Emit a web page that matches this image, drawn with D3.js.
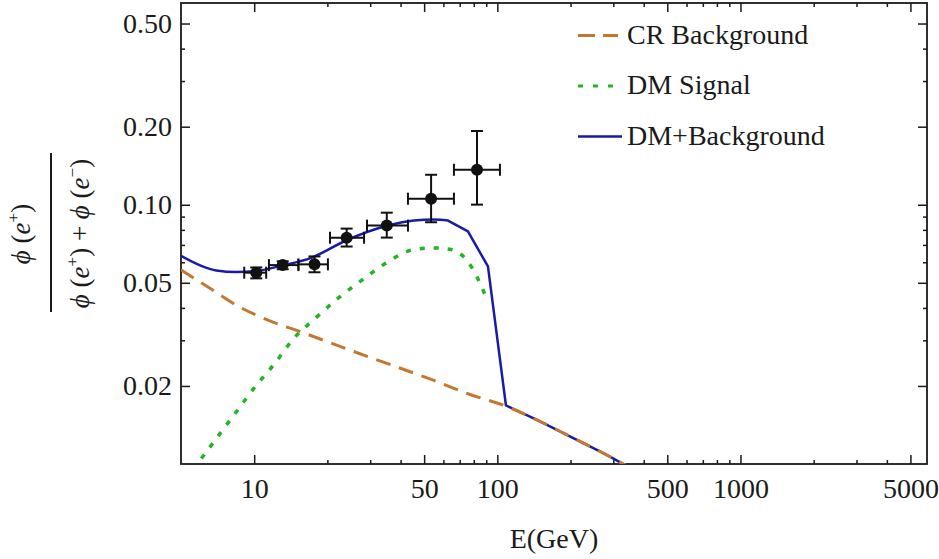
<!DOCTYPE html>
<html>
<head>
<meta charset="utf-8">
<script src="https://cdn.jsdelivr.net/npm/d3@7"></script>
<style>
  body { margin: 0; background: #fff; }
  text { font-family: "Liberation Serif", "Times New Roman", serif; fill: #1a1a1a; }
</style>
</head>
<body>
<svg id="chart"></svg>
<script>
// Positron fraction data (energies in GeV)
const dataE    = [10.2, 13.1, 17.7, 24.0, 35.1, 53.4, 82.5];
const dataFrac = [0.0547, 0.0585, 0.0589, 0.0746, 0.0831, 0.1055, 0.1364];
const dataElo  = [9.1, 11.5, 15.2, 20.5, 29.1, 42.9, 66.3];
const dataEhi  = [11.2, 15.2, 20.1, 28.3, 42.9, 66.3, 102.5];
const dataFlo  = [0.0520, 0.0564, 0.0549, 0.0690, 0.0747, 0.0856, 0.1001];
const dataFhi  = [0.0573, 0.0605, 0.0632, 0.0809, 0.0932, 0.1305, 0.1925];

// CR background curve
const bgE    = [5.0, 6.53, 8.43, 11.74, 15.6, 25.0, 36.6, 54.9, 75.7, 108.5, 146.9, 200.6, 274.2, 337.5];
const bgFrac = [0.0561, 0.0478, 0.0410, 0.0355, 0.0323, 0.0274, 0.0241, 0.0210, 0.01866, 0.01671, 0.01474, 0.01273, 0.01098, 0.00988];

// DM signal curve
const dmE    = [5.6, 6.98, 8.43, 10.19, 11.97, 14.46, 17.97, 22.35, 28.04, 35.85, 45.4, 54.9, 64.5, 72.2, 79.4, 85.6, 90.6];
const dmFrac = [0.0095, 0.01253, 0.01588, 0.0201, 0.0240, 0.0303, 0.0367, 0.0439, 0.0516, 0.0606, 0.0672, 0.0681, 0.0672, 0.0634, 0.0563, 0.0489, 0.0432];

// DM + background curve
const totE    = [5.0, 6.06, 6.98, 8.43, 10.19, 13.15, 17.15, 24.1, 35.5, 45.4, 54.9, 62.7, 75.7, 91.5, 108.5, 146.9, 200.6, 274.2, 337.5];
const totFrac = [0.0635, 0.0581, 0.0558, 0.0550, 0.0555, 0.0584, 0.0624, 0.0731, 0.0831, 0.0869, 0.0877, 0.0869, 0.0790, 0.0578, 0.01683, 0.01474, 0.01273, 0.01098, 0.00988];
const totSmoothEnd = 11; // index where the sharp cut-off starts

// ticks
const xMajor = [10, 50, 100, 500, 1000, 5000];
const xMinor = [20, 30, 40, 60, 70, 80, 90, 200, 300, 400, 600, 700, 800, 900, 2000, 3000, 4000];
const yMajor = [0.02, 0.05, 0.1, 0.2, 0.5];
const yMinor = [0.03, 0.04, 0.06, 0.07, 0.08, 0.09, 0.3, 0.4];

const legendNames = ["CR Background", "DM Signal", "DM+Background"];

const width = 939, height = 559;
const plotLeft = 181, plotRight = 927, plotTop = 3, plotBottom = 464;
const fontSize = 28;

const colBg = "#c47731", colDm = "#22b522", colTot = "#1a1aa8";
const serif = "'Liberation Serif', 'Times New Roman', serif";

const svg = d3.select("#chart").attr("width", width).attr("height", height);

const x = d3.scaleLog().domain([5, 5850]).range([plotLeft, plotRight]);
const y = d3.scaleLog().domain([0.01, 0.6]).range([plotBottom, plotTop]);

svg.append("clipPath").attr("id", "plotclip")
  .append("rect").attr("x", plotLeft).attr("y", plotTop)
  .attr("width", plotRight - plotLeft).attr("height", plotBottom - plotTop);

// axes (ticks point inward)
function styleAxis(g) {
  g.attr("font-family", serif);
  g.select(".domain").remove();
  g.selectAll("line").attr("stroke", "#1a1a1a").attr("stroke-width", 1.5);
  g.selectAll("text").attr("font-size", fontSize).attr("fill", "#1a1a1a");
}

svg.append("g").attr("transform", `translate(0,${plotBottom})`)
  .call(d3.axisBottom(x).tickValues(xMajor).tickSize(-9).tickPadding(14).tickFormat(d3.format("d"))).call(styleAxis);
svg.append("g").attr("transform", `translate(0,${plotBottom})`)
  .call(d3.axisBottom(x).tickValues(xMinor).tickSize(-4).tickFormat("")).call(styleAxis);
svg.append("g").attr("transform", `translate(0,${plotTop})`)
  .call(d3.axisTop(x).tickValues(xMajor).tickSize(-9).tickFormat("")).call(styleAxis);
svg.append("g").attr("transform", `translate(0,${plotTop})`)
  .call(d3.axisTop(x).tickValues(xMinor).tickSize(-4).tickFormat("")).call(styleAxis);

svg.append("g").attr("transform", `translate(${plotLeft},0)`)
  .call(d3.axisLeft(y).tickValues(yMajor).tickSize(-9).tickPadding(9).tickFormat(d3.format(".2f"))).call(styleAxis);
svg.append("g").attr("transform", `translate(${plotLeft},0)`)
  .call(d3.axisLeft(y).tickValues(yMinor).tickSize(-4).tickFormat("")).call(styleAxis);
svg.append("g").attr("transform", `translate(${plotRight},0)`)
  .call(d3.axisRight(y).tickValues(yMajor).tickSize(-9).tickFormat("")).call(styleAxis);
svg.append("g").attr("transform", `translate(${plotRight},0)`)
  .call(d3.axisRight(y).tickValues(yMinor).tickSize(-4).tickFormat("")).call(styleAxis);

// frame
svg.append("rect").attr("x", plotLeft).attr("y", plotTop)
  .attr("width", plotRight - plotLeft).attr("height", plotBottom - plotTop)
  .attr("fill", "none").attr("stroke", "#1a1a1a").attr("stroke-width", 1.8);

// curves
const line = d3.line().x(d => x(d[0])).y(d => y(d[1])).curve(d3.curveMonotoneX);
const lineLin = d3.line().x(d => x(d[0])).y(d => y(d[1]));
const plot = svg.append("g").attr("clip-path", "url(#plotclip)");

const tot = d3.zip(totE, totFrac);
const totPath = line(tot.slice(0, totSmoothEnd + 1)) + lineLin(tot.slice(totSmoothEnd)).replace(/^M[^L]*/, "");
plot.append("path").attr("d", totPath)
  .attr("fill", "none").attr("stroke", colTot).attr("stroke-width", 2.5).attr("stroke-linejoin", "round");
plot.append("path").datum(d3.zip(bgE, bgFrac)).attr("d", line)
  .attr("fill", "none").attr("stroke", colBg).attr("stroke-width", 3).attr("stroke-dasharray", "15,9");
plot.append("path").datum(d3.zip(dmE, dmFrac)).attr("d", line)
  .attr("fill", "none").attr("stroke", colDm).attr("stroke-width", 3.5).attr("stroke-dasharray", "5,9");

// data points with error bars
const pts = dataE.map((e, i) => ({ e: e, f: dataFrac[i], elo: dataElo[i], ehi: dataEhi[i], flo: dataFlo[i], fhi: dataFhi[i] }));
const cap = 6;
const pg = plot.append("g").attr("stroke", "#111").attr("stroke-width", 2);
pts.forEach(p => {
  const cx = x(p.e), cy = y(p.f);
  pg.append("line").attr("x1", x(p.elo)).attr("x2", x(p.ehi)).attr("y1", cy).attr("y2", cy);
  pg.append("line").attr("x1", x(p.elo)).attr("x2", x(p.elo)).attr("y1", cy - cap).attr("y2", cy + cap);
  pg.append("line").attr("x1", x(p.ehi)).attr("x2", x(p.ehi)).attr("y1", cy - cap).attr("y2", cy + cap);
  pg.append("line").attr("x1", cx).attr("x2", cx).attr("y1", y(p.flo)).attr("y2", y(p.fhi));
  pg.append("line").attr("x1", cx - cap).attr("x2", cx + cap).attr("y1", y(p.flo)).attr("y2", y(p.flo));
  pg.append("line").attr("x1", cx - cap).attr("x2", cx + cap).attr("y1", y(p.fhi)).attr("y2", y(p.fhi));
});
plot.append("g").selectAll("circle").data(pts).join("circle")
  .attr("cx", d => x(d.e)).attr("cy", d => y(d.f)).attr("r", 6).attr("fill", "#111");

// legend
const legendStyles = [
  { color: colBg, dash: "17,8", w: 3 },
  { color: colDm, dash: "5,10", w: 3 },
  { color: colTot, dash: null, w: 2.5 }
];
const legend = svg.append("g").attr("font-family", serif).selectAll("g").data(legendNames).join("g")
  .attr("transform", (d, i) => `translate(578,${35.5 + i * 50.5})`);
legend.append("line").attr("x1", 0).attr("x2", (d, i) => i === 2 ? 44 : 40).attr("y1", 0).attr("y2", 0)
  .attr("stroke", (d, i) => legendStyles[i].color)
  .attr("stroke-width", (d, i) => legendStyles[i].w)
  .attr("stroke-dasharray", (d, i) => legendStyles[i].dash);
legend.append("text").attr("x", 49).attr("y", 8).attr("font-size", fontSize).text(d => d);

// x axis title
svg.append("text").attr("x", (plotLeft + plotRight) / 2).attr("y", 548).attr("text-anchor", "middle")
  .attr("font-family", serif).attr("font-size", fontSize).text("E(GeV)");

// y axis title: phi(e+) / (phi(e+) + phi(e-))
function phiTerm(t, sign) {
  t.append("tspan").attr("font-style", "italic").text("\u03D5");
  t.append("tspan").text(" (");
  t.append("tspan").attr("font-style", "italic").text("e");
  t.append("tspan").attr("dy", -11).attr("font-size", 17).text(sign);
  t.append("tspan").attr("dy", 11).text(")");
}
const num = svg.append("text").attr("transform", "translate(30,234) rotate(-90)")
  .attr("text-anchor", "middle").attr("font-family", serif).attr("font-size", 27);
phiTerm(num, "+");
const den = svg.append("text").attr("transform", "translate(89,233.5) rotate(-90)")
  .attr("text-anchor", "middle").attr("font-family", serif).attr("font-size", 27);
phiTerm(den, "+");
den.append("tspan").text(" + ");
phiTerm(den, "\u2212");
svg.append("line").attr("x1", 51).attr("x2", 51).attr("y1", 153).attr("y2", 312)
  .attr("stroke", "#1a1a1a").attr("stroke-width", 2);
</script>
</body>
</html>
